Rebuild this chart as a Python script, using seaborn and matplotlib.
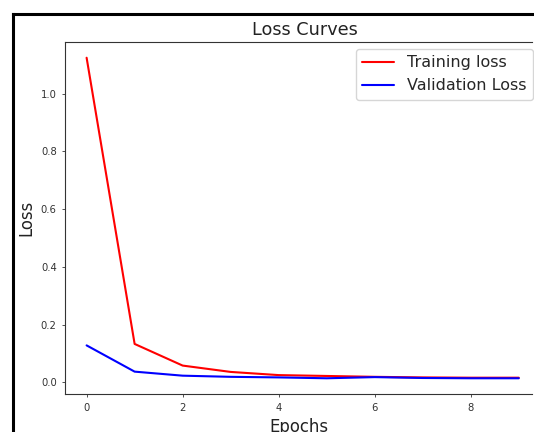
import matplotlib
matplotlib.use("Agg")
import matplotlib.pyplot as plt
from matplotlib.lines import Line2D
import seaborn as sns
import pandas as pd

epochs = [0, 1, 2, 3, 4, 5, 6, 7, 8, 9]
training_loss = [1.125, 0.133, 0.058, 0.036, 0.025, 0.022, 0.019, 0.017, 0.016, 0.016]
validation_loss = [0.128, 0.037, 0.023, 0.019, 0.017, 0.014, 0.018, 0.015, 0.014, 0.014]
series_names = ["Training loss", "Validation Loss"]

df = pd.DataFrame({
    "Epochs": epochs * 2,
    "Loss": training_loss + validation_loss,
    "series": [series_names[0]] * len(epochs) + [series_names[1]] * len(epochs),
})

sns.set_style("ticks")
plt.rcParams["font.family"] = ["DejaVu Sans"]

fig = plt.figure(figsize=(5.34, 4.32), dpi=100)
# the reference is a crop: the plot area runs on past the right edge
ax = fig.add_axes([65 / 534, 1 - 394.3 / 432, 467 / 534, 352.6 / 432])
ax.patch.set_visible(False)

sns.lineplot(data=df, x="Epochs", y="Loss", hue="series",
             palette={series_names[0]: "red", series_names[1]: "blue"},
             linewidth=1.5, ax=ax)
ax.set_xlim(-0.45, 9.275)

for name, s in ax.spines.items():
    s.set_color("#333333")
    s.set_linewidth(0.8)
    s.set_visible(name in ("left", "top", "bottom"))

ax.tick_params(labelsize=7.2, length=2.5, width=0.6, colors="#333333",
               right=False, top=False)
ax.set_title("Loss Curves", fontsize=12.7, pad=4.8, color="#222222", x=0.514)
ax.set_xlabel("Epochs", fontsize=11.9, color="#222222")
ax.set_ylabel("Loss", fontsize=11.9, color="#222222")
leg = ax.legend(fontsize=11.5, loc="upper right", title=None,
                bbox_to_anchor=(533 / 534, 1 - 49 / 432),
                bbox_transform=fig.transFigure, borderaxespad=0.0)

# outer frame of the cropped screenshot (left and top edges only)
fx = 12.8 / 534
fy = 1 - 13.8 / 432
fig.add_artist(Line2D([fx, fx], [0, fy], transform=fig.transFigure,
                      color="black", linewidth=2.2, solid_capstyle="projecting"))
fig.add_artist(Line2D([fx, 1], [fy, fy], transform=fig.transFigure,
                      color="black", linewidth=2.2, solid_capstyle="projecting"))

fig.savefig("out.png", dpi=100, facecolor="white")
